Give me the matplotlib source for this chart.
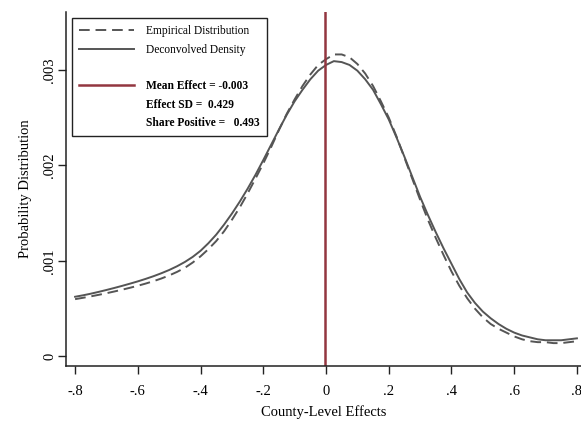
import matplotlib
matplotlib.use("Agg")
import matplotlib.pyplot as plt
from matplotlib.lines import Line2D

plt.rcParams['font.family'] = ['Liberation Serif', 'DejaVu Serif']

# county-level effect grid and the two density curves
effects = [-0.800, -0.775, -0.750, -0.725, -0.700, -0.675, -0.650, -0.625, -0.600, -0.575,
           -0.550, -0.525, -0.500, -0.475, -0.450, -0.425, -0.400, -0.375, -0.350, -0.325,
           -0.300, -0.275, -0.250, -0.225, -0.200, -0.175, -0.150, -0.125, -0.100, -0.075,
           -0.050, -0.025, 0.000, 0.025, 0.050, 0.075, 0.100, 0.125, 0.150, 0.175,
           0.200, 0.225, 0.250, 0.275, 0.300, 0.325, 0.350, 0.375, 0.400, 0.425,
           0.450, 0.475, 0.500, 0.525, 0.550, 0.575, 0.600, 0.625, 0.650, 0.675,
           0.700, 0.725, 0.750, 0.775, 0.800]
empirical = [0.000600, 0.000614, 0.000629, 0.000645, 0.000662, 0.000680, 0.000699, 0.000719,
             0.000740, 0.000763, 0.000788, 0.000816, 0.000848, 0.000885, 0.000928, 0.000983,
             0.001048, 0.001123, 0.001208, 0.001310, 0.001430, 0.001560, 0.001705, 0.001860,
             0.002020, 0.002190, 0.002370, 0.002540, 0.002690, 0.002830, 0.002950, 0.003050,
             0.003110, 0.003160, 0.003160, 0.003130, 0.003060, 0.002960, 0.002830, 0.002670,
             0.002500, 0.002300, 0.002080, 0.001860, 0.001640, 0.001430, 0.001240, 0.001060,
             0.000890, 0.000740, 0.000610, 0.000500, 0.000410, 0.000340, 0.000290, 0.000250,
             0.000210, 0.000180, 0.000160, 0.000150, 0.000150, 0.000140, 0.000140, 0.000150,
             0.000160]
deconvolved = [0.000625, 0.000640, 0.000657, 0.000676, 0.000696, 0.000717, 0.000739, 0.000762,
               0.000786, 0.000812, 0.000840, 0.000871, 0.000905, 0.000944, 0.000989, 0.001042,
               0.001106, 0.001185, 0.001275, 0.001380, 0.001495, 0.001620, 0.001755, 0.001900,
               0.002055, 0.002215, 0.002375, 0.002530, 0.002670, 0.002790, 0.002900, 0.002990,
               0.003050, 0.003090, 0.003080, 0.003050, 0.002990, 0.002900, 0.002790, 0.002640,
               0.002480, 0.002290, 0.002090, 0.001880, 0.001670, 0.001480, 0.001300, 0.001130,
               0.000970, 0.000810, 0.000670, 0.000560, 0.000470, 0.000400, 0.000340, 0.000290,
               0.000250, 0.000220, 0.000200, 0.000180, 0.000170, 0.000170, 0.000170, 0.000180,
               0.000190]
mean_effect = -0.003
effect_sd = 0.429
share_positive = 0.493

xticks = [-0.8, -0.6, -0.4, -0.2, 0, 0.2, 0.4, 0.6, 0.8]
xticklabels = ['-.8', '-.6', '-.4', '-.2', '0', '.2', '.4', '.6', '.8']
yticks = [0, 0.001, 0.002, 0.003]
yticklabels = ['0', '.001', '.002', '.003']

gray = '#555555'
red = '#933640'

fig = plt.figure(figsize=(5.81, 4.22), dpi=100)
ax = fig.add_axes([66 / 581, 1 - 366 / 422, 515 / 581, 354 / 422])

ax.plot(effects, empirical, color=gray, lw=1.4, dashes=(5.5, 3))
ax.plot(effects, deconvolved, color=gray, lw=1.4)
ax.axvline(mean_effect, color=red, lw=1.8)

ax.set_xlim(-0.829, 0.813)
ax.set_ylim(-0.0000994, 0.003604)
ax.set_xticks(xticks)
ax.set_xticklabels(xticklabels)
ax.set_yticks(yticks)
ax.set_yticklabels(yticklabels, rotation=90, va='center')
ax.tick_params(labelsize=10.5, length=6, width=1, color='#222222')
ax.tick_params(axis='x', pad=8)
ax.tick_params(axis='y', pad=1)
ax.set_xlabel('County-Level Effects', fontsize=10.5, labelpad=5)
ax.set_ylabel('Probability Distribution', fontsize=10.5, labelpad=8)
for side in ['top', 'right']:
    ax.spines[side].set_visible(False)
for side in ['left', 'bottom']:
    ax.spines[side].set_linewidth(1.1)
    ax.spines[side].set_color('#222222')

blank = Line2D([], [], color='none')
handles = [
    Line2D([], [], color=gray, lw=1.4, dashes=(5.5, 3)),
    Line2D([], [], color=gray, lw=1.4),
    blank,
    Line2D([], [], color=red, lw=1.8),
    blank,
    blank,
]
labels = [
    'Empirical Distribution',
    'Deconvolved Density',
    '',
    f'Mean Effect = {mean_effect:.3f}',
    f'Effect SD =  {effect_sd:.3f}',
    f'Share Positive =   {share_positive:.3f}',
]
leg = ax.legend(handles, labels, loc='upper left', bbox_to_anchor=(0.011, 0.982),
                fontsize=8.3, handlelength=4.8, handletextpad=1.05, labelspacing=0.55,
                borderpad=0.6, fancybox=False, framealpha=1, edgecolor='#222222',
                borderaxespad=0)
leg.get_frame().set_linewidth(1.0)
for t in leg.get_texts()[3:]:
    t.set_fontweight('bold')

fig.savefig('out.png', dpi=100)
